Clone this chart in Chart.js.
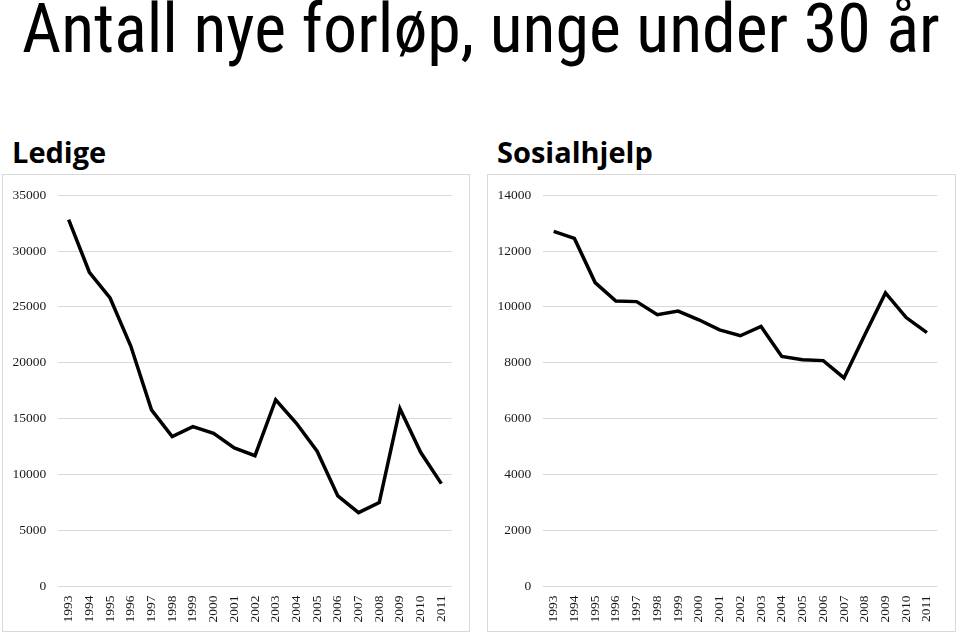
<!DOCTYPE html>
<html>
<head>
<meta charset="utf-8">
<script src="https://cdn.jsdelivr.net/npm/chart.js@4.4.1/dist/chart.umd.min.js"></script>
<style>
  html, body { margin: 0; padding: 0; background: #fff; }
  body { width: 959px; height: 634px; position: relative; overflow: hidden; }
  #title { position: absolute; left: 22px; top: -11px; white-space: nowrap;
    font-family: "Liberation Sans Narrow", "Roboto Condensed", "Open Sans", sans-serif; font-size: 62px; color: #000; line-height: 1.2; }
  .sub { position: absolute; top: 135px; font-family: "Open Sans", "Noto Sans", sans-serif; font-weight: bold; font-size: 29px; color: #000; line-height: 1.2; }
  .box { position: absolute; top: 174px; height: 458px; box-sizing: border-box; border: 1px solid #d9d9d9; }
  .box canvas { display: block; }
</style>
</head>
<body>
<div id="title">Antall nye forløp, unge under 30 år</div>
<div class="sub" style="left:12px">Ledige</div>
<div class="sub" style="left:497px">Sosialhjelp</div>
<div class="box" style="left:2px; width:468px;"><canvas id="c1" width="466" height="456"></canvas></div>
<div class="box" style="left:487px; width:469px;"><canvas id="c2" width="467" height="456"></canvas></div>
<script>
const years = ["1993","1994","1995","1996","1997","1998","1999","2000","2001","2002","2003","2004","2005","2006","2007","2008","2009","2010","2011"];
const ledige = [32800, 28100, 25800, 21500, 15800, 13400, 14300, 13700, 12400, 11700, 16700, 14600, 12100, 8100, 6600, 7500, 15900, 12000, 9200];
const sosialhjelp = [12700, 12450, 10870, 10210, 10190, 9720, 9850, 9540, 9180, 8970, 9300, 8230, 8110, 8080, 7460, 9000, 10500, 9620, 9080];
const ledigeTicks = { max: 35000, step: 5000 };
const sosialTicks = { max: 14000, step: 2000 };

// fit title width
(function(){
  const t = document.getElementById('title');
  const w = t.getBoundingClientRect().width;
  const target = 918;
  const fs = 62 * target / w;
  t.style.fontSize = fs + 'px';
})();

function makeChart(id, data, tk, rightPad) {
  new Chart(document.getElementById(id), {
    type: 'line',
    data: { labels: years, datasets: [{ data: data, borderColor: '#000', borderWidth: 3.5, pointRadius: 0, tension: 0, fill: false }] },
    options: {
      responsive: false, animation: false,
      layout: { padding: { left: 0, right: rightPad, top: 18, bottom: 0 } },
      plugins: { legend: { display: false }, tooltip: { enabled: false }, title: { display: false } },
      scales: {
        x: {
          offset: true,
          grid: { display: false, drawTicks: false },
          border: { display: false },
          ticks: { minRotation: 90, maxRotation: 90, padding: 9, color: '#1a1a1a', font: { family: '"Liberation Serif", "DejaVu Serif", serif', size: 13.5 } },
          afterFit: s => { s.height = 44.5; }
        },
        y: {
          min: 0, max: tk.max,
          grid: { color: '#d9d9d9', lineWidth: 1, drawTicks: false },
          border: { display: false },
          ticks: { stepSize: tk.step, padding: 12, color: '#1a1a1a', font: { family: '"Liberation Serif", "DejaVu Serif", serif', size: 13.5 },
                   callback: v => String(v) },
          afterFit: s => { s.width = 55.3; }
        }
      }
    }
  });
}
makeChart('c1', ledige, ledigeTicks, 17.3);
makeChart('c2', sosialhjelp, sosialTicks, 17.7);
</script>
</body>
</html>
